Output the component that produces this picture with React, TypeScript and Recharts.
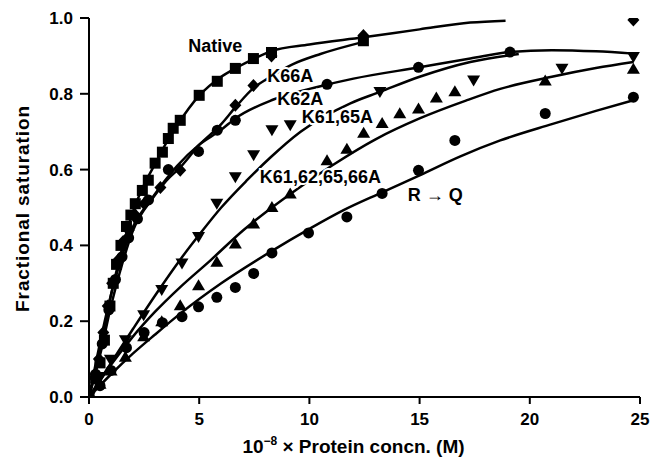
import React from 'react';
import { ComposedChart, Line, Scatter, XAxis, YAxis, ReferenceDot } from 'recharts';

// measured points [conc, saturation]
const nativePts = [
  [0, 0], [0.3, 0.05], [0.5, 0.09], [0.7, 0.15], [0.95, 0.24], [1.1, 0.3], [1.25, 0.35],
  [1.45, 0.4], [1.7, 0.45], [1.9, 0.48], [2.1, 0.51], [2.42, 0.545], [2.69, 0.572],
  [3.0, 0.617], [3.33, 0.646], [3.6, 0.682], [3.82, 0.709], [4.14, 0.73], [5.0, 0.796],
  [5.82, 0.833], [6.64, 0.867], [7.46, 0.893], [8.28, 0.909], [12.45, 0.94],
];
const k66aPts = [
  [0, 0], [0.25, 0.05], [0.45, 0.1], [0.65, 0.17], [0.85, 0.24], [1.05, 0.3], [1.3, 0.36],
  [1.55, 0.41], [1.8, 0.44], [2.1, 0.48], [2.5, 0.51], [3.24, 0.553], [4.14, 0.598],
  [6.64, 0.77], [7.46, 0.822], [8.28, 0.9], [12.45, 0.954], [24.7, 0.995],
];
const k62aPts = [
  [0, 0], [0.3, 0.06], [0.6, 0.14], [0.9, 0.23], [1.2, 0.31], [1.5, 0.37], [1.8, 0.42],
  [2.2, 0.47], [2.7, 0.52], [3.6, 0.6], [4.97, 0.648], [5.82, 0.704], [6.64, 0.73],
  [10.8, 0.825], [14.95, 0.87], [19.1, 0.91],
];
const k6165aPts = [
  [0, 0], [0.51, 0.053], [0.97, 0.098], [1.65, 0.15], [2.48, 0.216], [3.3, 0.282],
  [4.22, 0.352], [4.97, 0.422], [5.8, 0.51], [6.64, 0.58], [7.47, 0.638], [8.3, 0.704],
  [9.13, 0.717], [13.2, 0.805], [17.45, 0.835], [21.46, 0.866], [24.7, 0.897],
];
const k4Pts = [
  [0, 0], [0.5, 0.035], [1.0, 0.07], [1.65, 0.106], [2.48, 0.16], [3.3, 0.2], [4.14, 0.242],
  [4.97, 0.295], [5.8, 0.357], [6.64, 0.405], [7.47, 0.458], [8.3, 0.501], [9.13, 0.537],
  [10.8, 0.625], [11.7, 0.655], [12.46, 0.697], [13.3, 0.723], [14.1, 0.749], [14.95, 0.761],
  [15.76, 0.79], [16.6, 0.807], [20.7, 0.835], [24.7, 0.866],
];
const rqPts = [
  [0, 0], [0.5, 0.03], [1.0, 0.07], [1.7, 0.13], [2.5, 0.17], [3.33, 0.196], [4.22, 0.212],
  [4.97, 0.238], [5.8, 0.263], [6.64, 0.289], [7.47, 0.326], [8.3, 0.38], [9.96, 0.433],
  [11.7, 0.475], [13.3, 0.537], [14.95, 0.598], [16.6, 0.677], [20.7, 0.748], [24.7, 0.791],
];

// fitted curves
const nativeFit = [
  [0, 0], [0.5, 0.12], [1, 0.27], [1.5, 0.39], [2, 0.49], [2.5, 0.56], [3, 0.615], [3.5, 0.67],
  [4, 0.717], [5, 0.795], [6, 0.845], [6.73, 0.87], [7.5, 0.893], [8.24, 0.912], [10, 0.93],
  [12.46, 0.949], [15, 0.97], [17.3, 0.988], [18.9, 0.993],
];
const k66aFit = [
  [0, 0], [0.5, 0.11], [1, 0.24], [1.5, 0.35], [2, 0.44], [2.92, 0.527], [3.5, 0.57],
  [4.14, 0.606], [5, 0.665], [6, 0.72], [6.64, 0.764], [7.46, 0.815], [8.1, 0.84],
  [9.21, 0.877], [10.5, 0.905], [12.45, 0.937],
];
const k62aFit = [
  [0, 0], [1, 0.27], [2, 0.45], [2.79, 0.519], [4, 0.61], [4.96, 0.664], [6, 0.705],
  [6.64, 0.735], [8.37, 0.785], [10.5, 0.82], [12, 0.84], [15, 0.87], [17.3, 0.893],
  [19.1, 0.91], [21, 0.915], [23, 0.912], [24.7, 0.906],
];
const k6165aFit = [
  [0, 0], [1, 0.09], [2, 0.18], [3, 0.268], [4.17, 0.365], [5, 0.428], [6, 0.5], [7.17, 0.572],
  [8.23, 0.632], [9.6, 0.7], [11.86, 0.775], [13.2, 0.805], [15, 0.845], [17.3, 0.884],
  [19.5, 0.905],
];
const k4Fit = [
  [0, 0], [1, 0.085], [2, 0.16], [3, 0.225], [4.14, 0.29], [5.5, 0.36], [7, 0.44], [8.3, 0.5],
  [9.36, 0.545], [11.03, 0.611], [13, 0.68], [15, 0.735], [17.1, 0.782], [18.66, 0.813],
  [21, 0.845], [23, 0.868], [24.7, 0.884],
];
const rqFit = [
  [0, 0], [1, 0.06], [2, 0.115], [3, 0.165], [4.14, 0.22], [6, 0.3], [8.23, 0.383],
  [10.04, 0.445], [11.55, 0.493], [13.3, 0.54], [15, 0.585], [16.85, 0.635], [18.66, 0.677],
  [21, 0.72], [23, 0.755], [24.7, 0.783],
];

const curveLabels = [
  { x: 5.73, y: 0.925, text: 'Native' },
  { x: 9.13, y: 0.848, text: 'K66A' },
  { x: 9.59, y: 0.785, text: 'K62A' },
  { x: 11.27, y: 0.74, text: 'K61,65A' },
  { x: 10.5, y: 0.58, text: 'K61,62,65,66A' },
  { x: 15.71, y: 0.532, text: 'R \u2192 Q' },
];

const xTicks = [0, 5, 10, 15, 20, 25];
const yTicks = [0, 0.2, 0.4, 0.6, 0.8, 1.0];

const toXY = (a: number[][]) => a.map(([x, y]) => ({ x, y }));

const FONT = '"Liberation Sans", Arial, sans-serif';

const Square = (p: any) => <rect x={p.cx - 5.5} y={p.cy - 5.5} width={11} height={11} fill="#000" />;
const Diamond = (p: any) => (
  <polygon points={`${p.cx},${p.cy - 6.5} ${p.cx + 6},${p.cy} ${p.cx},${p.cy + 6.5} ${p.cx - 6},${p.cy}`} fill="#000" />
);
const Dot = (p: any) => <circle cx={p.cx} cy={p.cy} r={5.5} fill="#000" />;
const TriUp = (p: any) => (
  <polygon points={`${p.cx},${p.cy - 6} ${p.cx + 6.5},${p.cy + 5} ${p.cx - 6.5},${p.cy + 5}`} fill="#000" />
);
const TriDown = (p: any) => (
  <polygon points={`${p.cx},${p.cy + 6} ${p.cx + 6.5},${p.cy - 5} ${p.cx - 6.5},${p.cy - 5}`} fill="#000" />
);

const series = [
  { pts: nativePts, fit: nativeFit, shape: Square },
  { pts: k66aPts, fit: k66aFit, shape: Diamond },
  { pts: k62aPts, fit: k62aFit, shape: Dot },
  { pts: k6165aPts, fit: k6165aFit, shape: TriDown },
  { pts: k4Pts, fit: k4Fit, shape: TriUp },
  { pts: rqPts, fit: rqFit, shape: Dot },
];

const XLabel = (p: any) => {
  const vb = p.viewBox;
  return (
    <text x={vb.x + vb.width / 2 - 11} y={vb.y + 56} textAnchor="middle" fontFamily={FONT} fontWeight="bold" fontSize={19} fill="#000">
      10<tspan dy={-8} fontSize={12}>{'\u22128'}</tspan>
      <tspan dy={8}>{' \u00d7 Protein concn. (M)'}</tspan>
    </text>
  );
};

const YLabel = (p: any) => {
  const vb = p.viewBox;
  const cy = vb.y + vb.height / 2 + 1;
  return (
    <text x={22} y={cy} transform={`rotate(-90 22 ${cy})`} textAnchor="middle" dominantBaseline="central" fontFamily={FONT} fontWeight="bold" fontSize={19} letterSpacing={0.9} fill="#000">
      Fractional saturation
    </text>
  );
};

const tickStyle = { fontFamily: FONT, fontWeight: 'bold', fontSize: 17, fill: '#000' };

export default function App() {
  return (
    <div style={{ position: 'absolute', left: 0, top: 0, background: '#fff' }}>
      <ComposedChart width={652} height={461} margin={{ top: 18, right: 12, left: 0, bottom: 0 }}>
        <XAxis
          type="number"
          dataKey="x"
          domain={[0, 25]}
          ticks={xTicks}
          allowDataOverflow
          height={64}
          tickSize={7}
          tickMargin={9}
          axisLine={{ stroke: '#000', strokeWidth: 2 }}
          tickLine={{ stroke: '#000', strokeWidth: 2 }}
          tick={tickStyle}
          label={{ content: XLabel }}
        />
        <YAxis
          type="number"
          dataKey="y"
          domain={[0, 1]}
          ticks={yTicks}
          allowDataOverflow
          width={89}
          tickSize={9}
          tickMargin={7}
          tickFormatter={(v: number) => v.toFixed(1)}
          axisLine={{ stroke: '#000', strokeWidth: 2 }}
          tickLine={{ stroke: '#000', strokeWidth: 2 }}
          tick={tickStyle}
          label={{ content: YLabel }}
        />
        {series.map((s, i) => (
          <Line
            key={'l' + i}
            data={toXY(s.fit)}
            dataKey="y"
            type="monotone"
            stroke="#000"
            strokeWidth={2.5}
            dot={false}
            activeDot={false}
            isAnimationActive={false}
          />
        ))}
        {series.map((s, i) => (
          <Scatter key={'s' + i} data={toXY(s.pts)} dataKey="y" shape={s.shape} isAnimationActive={false} />
        ))}
        {curveLabels.map((l) => (
          <ReferenceDot
            key={l.text}
            x={l.x}
            y={l.y}
            r={0}
            shape={(p: any) => (
              <text
                x={p.cx}
                y={p.cy}
                textAnchor="middle"
                dominantBaseline="central"
                fontFamily={FONT}
                fontWeight="bold"
                fontSize={18}
                fill="#000"
                stroke="#fff"
                strokeWidth={4}
                paintOrder="stroke"
              >
                {l.text}
              </text>
            )}
          />
        ))}
      </ComposedChart>
    </div>
  );
}
